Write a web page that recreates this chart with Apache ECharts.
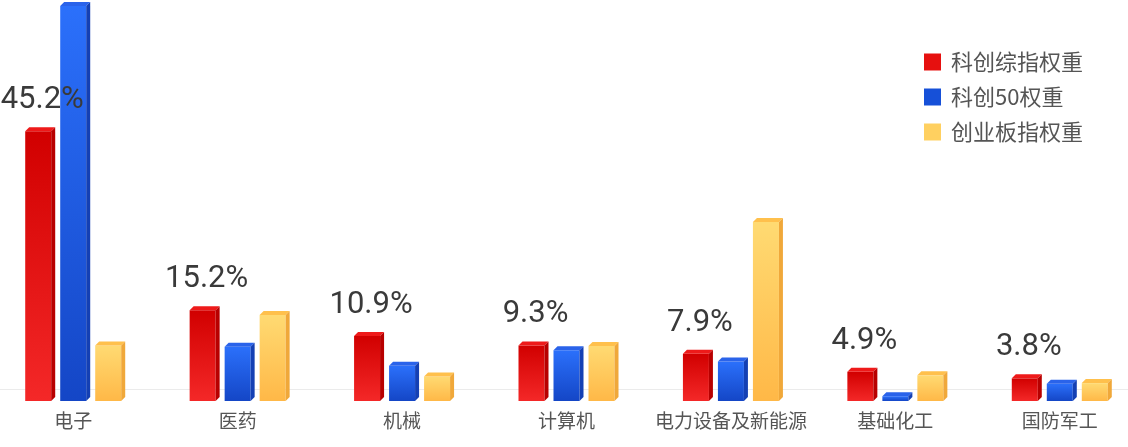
<!DOCTYPE html>
<html>
<head>
    <meta charset="utf-8">
    <title>权重对比</title>
    <script src="https://cdn.jsdelivr.net/npm/echarts@6/dist/echarts.min.js"></script>
    <style>
        html, body { margin: 0; padding: 0; background: #fff; overflow: hidden; }
        #main { width: 1151px; height: 447px; margin-left: -9px; }
    </style>
</head>
<body>
<div id="main"></div>
<script type="text/javascript">
    // 数据
    var categories = ['电子', '医药', '机械', '计算机', '电力设备及新能源', '基础化工', '国防军工'];
    var seriesNames = ['科创综指权重', '科创50权重', '创业板指权重'];
    var kcWeights = [45.2, 15.2, 10.9, 9.3, 7.9, 4.9, 3.8];
    var kc50Weights = [66.2, 9.1, 5.9, 8.5, 6.6, 0.8, 2.9];
    var cybWeights = [9.3, 14.4, 4.1, 9.2, 30.0, 4.3, 3.0];

    // 颜色: 正面渐变(上,下), 顶面, 侧面, 图例
    var palettes = [
        { top: '#d10000', bottom: '#f42828', cap: '#ee1a1a', side: '#b80000', legend: '#e6100f' },
        { top: '#2b70fb', bottom: '#1446c6', cap: '#2a63ea', side: '#1440b4', legend: '#1650d8' },
        { top: '#ffda72', bottom: '#ffb847', cap: '#ffc04c', side: '#f0a83a', legend: '#ffd060' }
    ];

    function toData(arr) {
        return arr.map(function (v, i) { return [i, v]; });
    }

    // 三维立体柱子
    function make3dBar(offset, pal, withLabel) {
        return function (params, api) {
            var idx = api.value(0), v = api.value(1);
            var top = api.coord([idx, v]);
            var base = api.coord([idx, 0]);
            var w = 26, d = 4;
            var cx = top[0] + offset;
            var x0 = cx - w / 2, x1 = cx + w / 2;
            var y0 = top[1], y1 = base[1];
            var children = [
                {
                    type: 'rect',
                    shape: { x: x0, y: y0, width: w, height: y1 - y0 },
                    style: {
                        fill: new echarts.graphic.LinearGradient(0, 0, 0, 1, [
                            { offset: 0, color: pal.top },
                            { offset: 1, color: pal.bottom }
                        ])
                    }
                },
                {
                    type: 'polygon',
                    shape: { points: [[x0, y0], [x0 + d, y0 - d], [x1 + d, y0 - d], [x1, y0]] },
                    style: { fill: pal.cap }
                },
                {
                    type: 'polygon',
                    shape: { points: [[x1, y0], [x1 + d, y0 - d], [x1 + d, y1 - d], [x1, y1]] },
                    style: { fill: pal.side }
                }
            ];
            if (withLabel) {
                children.push({
                    type: 'text',
                    z2: 100,
                    style: {
                        text: v.toFixed(1) + '%',
                        x: cx + 4,
                        y: y0 - 31,
                        align: 'center',
                        verticalAlign: 'middle',
                        font: '31px Roboto',
                        fill: '#3a3a3a'
                    }
                });
            }
            return { type: 'group', children: children };
        };
    }

    var myChart = echarts.init(document.getElementById('main'));
    var option = {
        animation: false,
        grid: { left: 0, right: 0, top: 0, bottom: 46 },
        legend: {
            orient: 'vertical',
            left: 928,
            top: 46,
            icon: 'rect',
            itemWidth: 17,
            itemHeight: 17,
            itemGap: 13,
            textStyle: {
                fontSize: 22,
                lineHeight: 22,
                color: '#555',
                fontFamily: 'Noto Sans CJK SC',
                padding: [0, 0, 0, 5]
            },
            data: seriesNames
        },
        xAxis: {
            type: 'category',
            data: categories,
            offset: -12,
            axisLine: { lineStyle: { color: '#ebebeb', width: 1 } },
            axisTick: { show: false },
            axisLabel: {
                margin: 22,
                fontSize: 19,
                color: '#555',
                fontFamily: 'Noto Sans CJK SC',
                interval: 0
            }
        },
        yAxis: {
            type: 'value',
            min: 0,
            max: 67.2,
            show: false,
            splitLine: { show: false }
        },
        series: [
            {
                name: seriesNames[0],
                type: 'custom',
                z: 5,
                renderItem: make3dBar(-35, palettes[0], true),
                itemStyle: { color: palettes[0].legend },
                encode: { x: 0, y: 1 },
                data: toData(kcWeights)
            },
            {
                name: seriesNames[1],
                type: 'custom',
                z: 2,
                renderItem: make3dBar(0, palettes[1], false),
                itemStyle: { color: palettes[1].legend },
                encode: { x: 0, y: 1 },
                data: toData(kc50Weights)
            },
            {
                name: seriesNames[2],
                type: 'custom',
                z: 2,
                renderItem: make3dBar(35, palettes[2], false),
                itemStyle: { color: palettes[2].legend },
                encode: { x: 0, y: 1 },
                data: toData(cybWeights)
            }
        ]
    };
    myChart.setOption(option);
</script>
</body>
</html>
